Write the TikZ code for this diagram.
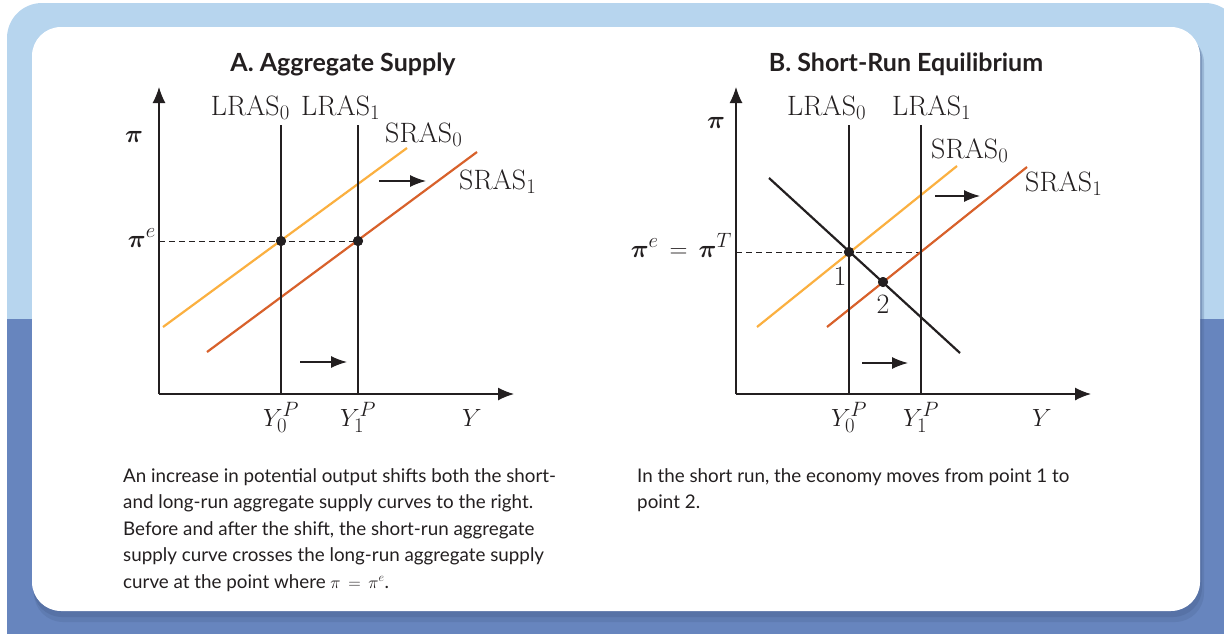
\documentclass[tikz,border=0pt]{standalone}
\usepackage{bm}
\usepackage{fontspec}
\newfontfamily\capfont{Lato}
\usetikzlibrary{arrows.meta}
\definecolor{bgl}{HTML}{B7D5EE}
\definecolor{bgd}{HTML}{6785BE}
\definecolor{shad}{HTML}{4A6291}
\definecolor{srasA}{HTML}{FBB040}
\definecolor{srasB}{HTML}{D8612B}
\definecolor{ink}{HTML}{231F20}
\tikzset{
  axisline/.style={ink, line width=1.3pt, -{Latex[length=16pt,width=13pt]}},
  lras/.style={ink, line width=2.6pt},
  adline/.style={ink, line width=2.2pt},
  suppA/.style={srasA, line width=2.2pt},
  suppB/.style={srasB, line width=2.2pt},
  guide/.style={ink, line width=0.9pt, dash pattern=on 6pt off 4pt},
  shiftarrow/.style={ink, line width=1.3pt, -{Latex[length=16pt,width=12pt]}},
  eqdot/.style={circle, fill=ink, inner sep=0pt, minimum size=10pt},
  lab/.style={ink, font=\fontsize{28}{32}\selectfont, inner sep=0pt},
  title/.style={ink, font=\capfont\bfseries\fontsize{25}{28}\selectfont, inner sep=0pt},
  captext/.style={ink, font=\capfont\fontsize{18.8}{22}\selectfont, inner sep=0pt, anchor=base west},
}
\begin{document}
\begin{tikzpicture}[x=1pt,y=-1pt]
\useasboundingbox (0,0) rectangle (1224,633);
% background
\begin{scope}
  \clip[rounded corners=35pt] (7,3) rectangle (1240,720);
  \fill[bgl] (0,0) rectangle (1240,319);
  \fill[bgd] (0,319) rectangle (1240,720);
\end{scope}
% card shadow and card
\fill[shad, opacity=0.25, rounded corners=29pt] (34,34) rectangle (1204,622);
\fill[shad, opacity=0.35, rounded corners=29pt] (33,31) rectangle (1202,617);
\fill[white, rounded corners=29pt] (32,27) rectangle (1200,611);

% ---------------- Panel A ----------------
\node[title] (titleA) at (343,64) {A. Aggregate Supply};
\coordinate (oA) at (159,394);
\coordinate (yA) at (159,87);
\coordinate (xA) at (514,394);
\draw[axisline] (oA) -- (yA);
\draw[axisline] (oA) -- (xA);
\coordinate (l0tA) at (281,125); \coordinate (l0bA) at (281,394);
\coordinate (l1tA) at (358,125); \coordinate (l1bA) at (358,394);
\node[eqdot] (pA0) at (281,241) {};
\node[eqdot] (pA1) at (358,241) {};
\draw[guide] (oA |- pA0) -- (pA1.center);
\coordinate (s0aA) at (163,327); \coordinate (s0bA) at (407,148);
\coordinate (s1aA) at (207,352); \coordinate (s1bA) at (477,152);
\draw[suppA] (s0aA) -- (s0bA);
\draw[suppB] (s1aA) -- (s1bA);
\draw[lras] (l0tA) -- (l0bA);
\draw[lras] (l1tA) -- (l1bA);
\node[eqdot] at (pA0) {};
\node[eqdot] at (pA1) {};
\coordinate (arA1) at (379,181); \coordinate (arA2) at (426,181);
\draw[shiftarrow] (arA1) -- (arA2);
\coordinate (arA3) at (300,362); \coordinate (arA4) at (347,362);
\draw[shiftarrow] (arA3) -- (arA4);
\node[lab, anchor=base east] (lrasA0) at (290,115) {LRAS$_0$};
\node[lab, anchor=base west] (lrasA1) at (301,115) {LRAS$_1$};
\node[lab, anchor=base west] (srasA0) at (385,142) {SRAS$_0$};
\node[lab, anchor=base west] (srasA1) at (459,189) {SRAS$_1$};
\node[lab, anchor=base] (piA) at (134,142) {$\bm{\pi}$};
\node[lab, anchor=base east] (pieA) at (156,247) {$\bm{\pi}^{e}$};
\node[lab, anchor=base] (y0A) at (281,426) {$Y_0^P$};
\node[lab, anchor=base] (y1A) at (358,426) {$Y_1^P$};
\node[lab, anchor=base] (yyA) at (472,426) {$Y$};
\node[captext] (cA1) at (123,482) {An increase in potential output shifts both the short-};
\node[captext] (cA2) at (123,508.5) {and long-run aggregate supply curves to the right.};
\node[captext] (cA3) at (123,535) {Before and after the shift, the short-run aggregate};
\node[captext] (cA4) at (123,561.5) {supply curve crosses the long-run aggregate supply};
\node[captext] (cA5) at (123,588) {curve at the point where $\pi\,=\,\pi^{e}$.};

% ---------------- Panel B ----------------
\node[title] (titleB) at (906,64) {B. Short-Run Equilibrium};
\coordinate (oB) at (736,394);
\coordinate (yB) at (736,87);
\coordinate (xB) at (1091,394);
\draw[axisline] (oB) -- (yB);
\draw[axisline] (oB) -- (xB);
\coordinate (l0tB) at (849,125); \coordinate (l0bB) at (849,394);
\coordinate (l1tB) at (921,125); \coordinate (l1bB) at (921,394);
\coordinate (gB) at (921,252);
\node[eqdot] (pB1) at (849,252) {};
\node[eqdot] (pB2) at (883,282) {};
\draw[guide] (oB |- gB) -- (gB);
\coordinate (s0aB) at (757,327); \coordinate (s0bB) at (957,166);
\coordinate (s1aB) at (827,327); \coordinate (s1bB) at (1027,167);
\draw[suppA] (s0aB) -- (s0bB);
\draw[suppB] (s1aB) -- (s1bB);
\coordinate (adaB) at (769,178); \coordinate (adbB) at (960,353);
\draw[adline] (adaB) -- (adbB);
\draw[lras] (l0tB) -- (l0bB);
\draw[lras] (l1tB) -- (l1bB);
\node[eqdot] at (pB1) {};
\node[eqdot] at (pB2) {};
\coordinate (arB1) at (935,196); \coordinate (arB2) at (980,196);
\draw[shiftarrow] (arB1) -- (arB2);
\coordinate (arB3) at (862,363); \coordinate (arB4) at (908,363);
\draw[shiftarrow] (arB3) -- (arB4);
\node[lab, anchor=base west] (lrasB0) at (787,115) {LRAS$_0$};
\node[lab, anchor=base west] (lrasB1) at (892,115) {LRAS$_1$};
\node[lab, anchor=base west] (srasB0) at (931,158) {SRAS$_0$};
\node[lab, anchor=base west] (srasB1) at (1025,191) {SRAS$_1$};
\node[lab, anchor=base] (piB) at (716,128) {$\bm{\pi}$};
\node[lab, anchor=base east] (pieB) at (732,257) {$\bm{\pi}^{e}\,=\,\bm{\pi}^{T}$};
\node[lab, anchor=base] (n1) at (840,285) {1};
\node[lab, anchor=base] (n2) at (883,313) {2};
\node[lab, anchor=base] (y0B) at (849,426) {$Y_0^P$};
\node[lab, anchor=base] (y1B) at (921,426) {$Y_1^P$};
\node[lab, anchor=base] (yyB) at (1042,426) {$Y$};
\node[captext] (cB1) at (637,482) {In the short run, the economy moves from point 1 to};
\node[captext] (cB2) at (637,508.5) {point 2.};
\end{tikzpicture}
\end{document}
